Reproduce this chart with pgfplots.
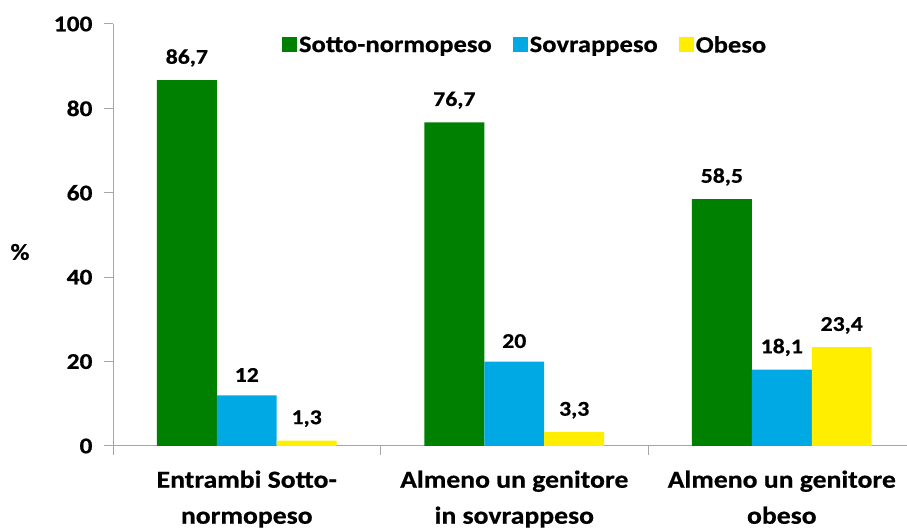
\documentclass[border=0pt]{standalone}
\usepackage{pgfplots}
\pgfplotsset{compat=1.18}
\usepackage{fontspec}
\setmainfont{Carlito}[FakeStretch=1.13, BoldFeatures={FakeBold=0.6}]
\definecolor{cgreen}{HTML}{008000}
\definecolor{cblue}{HTML}{00A9E3}
\definecolor{cyellow}{HTML}{FFEE00}
\definecolor{axgray}{HTML}{A6A6A6}
\begin{document}
\begin{tikzpicture}[x=1pt,y=1pt]
\useasboundingbox (0,0) rectangle (907,529);
\node[font=\bfseries\fontsize{23}{26}\selectfont] at (20,277) {\%};
\begin{axis}[
  at={(113pt,83pt)}, anchor=south west,
  width=794pt, height=422pt, scale only axis,
  xmin=-0.5, xmax=2.468, ymin=0, ymax=100,
  axis x line=bottom, axis y line=left,
  axis line style={draw=axgray, line width=1pt, -},
  /pgf/number format/assume math mode=true,
  /pgf/number format/use comma,
  ytick={0,20,...,100},
  yticklabel style={font=\bfseries\fontsize{22.5}{26}\selectfont, xshift=-8pt},
  xtick={0,1,2},
  xticklabels={{Entrambi Sotto-\\normopeso},{Almeno un genitore\\in sovrappeso},{Almeno un genitore\\obeso}},
  xticklabel style={font=\bfseries\fontsize{24.5}{36}\selectfont, align=center, yshift=-12pt},
  major x tick style={draw=none},
  minor xtick={-0.5,0.5,1.5},
  tick align=outside,
  major tick length=9pt, minor tick length=9pt,
  tick style={draw=axgray, line width=1pt},
  ybar, bar width=0.224,
  nodes near coords,
  nodes near coords style={font=\bfseries\fontsize{21}{24}\selectfont, anchor=south, yshift=10pt, text=black},
  legend style={at={(0.519,0.95)}, anchor=center, draw=none, legend columns=3,
    font=\bfseries\fontsize{23.5}{26}\selectfont,
    /tikz/every even column/.append style={column sep=19pt}},
  legend image code/.code={\fill[#1] (0pt,-7pt) rectangle (15pt,8pt);},
]
\addplot[fill=cgreen, draw=none, bar shift=-0.224] coordinates {(0,86.7) (1,76.7) (2,58.5)};
\addplot[fill=cblue, draw=none, bar shift=0] coordinates {(0,12) (1,20) (2,18.1)};
\addplot[fill=cyellow, draw=none, bar shift=0.224] coordinates {(0,1.3) (1,3.3) (2,23.4)};
\legend{Sotto-normopeso, Sovrappeso, Obeso}
\end{axis}
\end{tikzpicture}
\end{document}
